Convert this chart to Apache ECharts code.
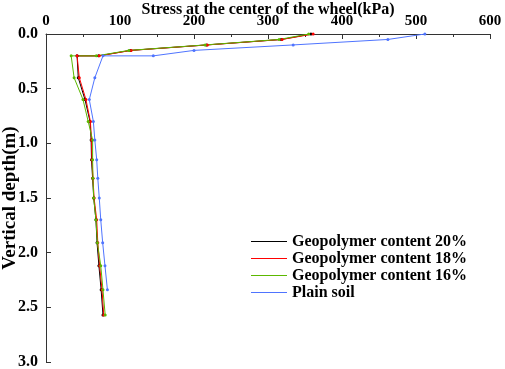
<!DOCTYPE html>
<html>
<head>
<meta charset="utf-8">
<script src="https://cdn.jsdelivr.net/npm/echarts@6/dist/echarts.min.js"></script>
<style>
html, body { margin: 0; padding: 0; background: #fff; }
#main { width: 505px; height: 369px; }
</style>
</head>
<body>
<div id="main"></div>
<script>
// depth (m) of each reading
const depths = [0, 0.05, 0.1, 0.15, 0.2, 0.2, 0.4, 0.6, 0.8, 0.97, 1.15, 1.32, 1.5, 1.7, 1.91, 2.12, 2.34, 2.57];
// stress at the wheel centre (kPa)
const geo20 = [358, 318, 217, 114, 71, 42, 43.6, 52.7, 59.5, 61, 61.5, 63, 64.5, 67.5, 69, 71.5, 74.5, 77];
const geo18 = [361, 319, 218, 115, 72, 42, 45, 54, 60, 61.5, 62, 63.5, 65, 68.5, 70, 72.5, 75.7, 78];
const geo16 = [355, 315, 215, 112, 68, 34, 38, 50, 57, 63, 63, 63.5, 64.5, 67.5, 69.5, 74, 77, 80];
const plain = [512, 462, 334, 200, 145, 77, 66, 58.5, 64, 66, 68.5, 70, 72, 74, 76.6, 79.7, 83];
const names = ['Geopolymer content 20%', 'Geopolymer content 18%', 'Geopolymer content 16%', 'Plain soil'];
const colors = ['#000000', '#ff0000', '#5cb800', '#4f74ff'];

const font = 'Liberation Serif, Times New Roman, serif';
const mychart = echarts.init(document.getElementById('main'));

function pairs(vals) {
  return vals.map(function (v, i) { return [v, depths[i]]; });
}

const allVals = [geo20, geo18, geo16, plain];
const series = allVals.map(function (vals, i) {
  return {
    name: names[i],
    type: 'line',
    data: pairs(vals),
    symbol: 'circle',
    symbolSize: 3,
    showSymbol: true,
    lineStyle: { width: 1, color: colors[i] },
    itemStyle: { color: colors[i] },
    animation: false
  };
});

option = {
  backgroundColor: '#fff',
  grid: { left: 46, right: 15, top: 34, bottom: 7, outerBoundsMode: 'none', containLabel: false },
  legend: {
    orient: 'vertical',
    left: 246,
    top: 228,
    itemWidth: 36,
    itemHeight: 4,
    itemGap: 0,
    icon: 'path://M0,1.5L36,1.5L36,2.5L0,2.5Z',
    textStyle: { fontFamily: font, fontWeight: 'bold', fontSize: 16, lineHeight: 17, color: '#000' },
    data: names.map(function (n, i) {
      return { name: n, itemStyle: { color: colors[i] } };
    })
  },
  xAxis: {
    type: 'value',
    position: 'top',
    min: 0,
    max: 600,
    interval: 100,
    name: 'Stress at the center of the wheel(kPa)',
    nameLocation: 'middle',
    nameGap: 16,
    nameMoveOverlap: false,
    nameTextStyle: { fontFamily: font, fontWeight: 'bold', fontSize: 16, color: '#000' },
    axisLine: { show: true, lineStyle: { color: '#333', width: 1 } },
    axisTick: { show: true, inside: true, length: 5, lineStyle: { color: '#333' } },
    minorTick: { show: true, splitNumber: 2, length: 3, lineStyle: { color: '#333' } },
    axisLabel: { fontFamily: font, fontWeight: 'bold', fontSize: 15, color: '#000', margin: 5 },
    splitLine: { show: false }
  },
  yAxis: {
    type: 'value',
    inverse: true,
    min: 0,
    max: 3,
    interval: 0.5,
    name: 'Vertical depth(m)',
    nameLocation: 'middle',
    nameGap: 26,
    nameMoveOverlap: false,
    nameTextStyle: { fontFamily: font, fontWeight: 'bold', fontSize: 19, color: '#000' },
    axisLine: { show: true, lineStyle: { color: '#333', width: 1 } },
    axisTick: { show: true, inside: true, length: 5, lineStyle: { color: '#333' } },
    axisLabel: {
      fontFamily: font, fontWeight: 'bold', fontSize: 16, color: '#000', margin: 8,
      formatter: function (v) { return v.toFixed(1); }
    },
    splitLine: { show: false }
  },
  series: series
};

mychart.setOption(option);
window.addEventListener('resize', function () { mychart.resize(); });
</script>
</body>
</html>
